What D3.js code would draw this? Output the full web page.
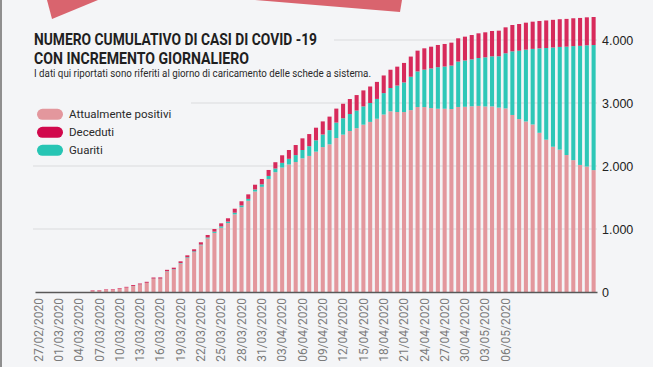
<!DOCTYPE html>
<html>
<head>
<meta charset="utf-8">
<script src="https://cdn.jsdelivr.net/npm/d3@7"></script>
<style>
  body { margin: 0; background: #f4f5f7; }
  svg { display: block; font-family: Roboto, "Noto Sans", sans-serif; }
</style>
</head>
<body>
<svg id="chart" width="653" height="367"></svg>
<script>
// daily categories run from 27/02/2020 to 19/05/2020 (one bar per day)
const firstDay = new Date(2020, 1, 27);
const lastDay = new Date(2020, 4, 19);
const tickLabels = ['27/02/2020', '01/03/2020', '04/03/2020', '07/03/2020', '10/03/2020', '13/03/2020',
  '16/03/2020', '19/03/2020', '22/03/2020', '25/03/2020', '28/03/2020', '31/03/2020', '03/04/2020',
  '06/04/2020', '09/04/2020', '12/04/2020', '15/04/2020', '18/04/2020', '21/04/2020', '24/04/2020',
  '27/04/2020', '30/04/2020', '03/05/2020', '06/05/2020'];
const yTicks = [0, 1000, 2000, 3000, 4000];

// values
const positivi = [0, 0, 0, 0, 0, 0, 0, 0,
  18, 20, 35, 35, 52, 70, 93, 118, 143, 209, 208, 325, 355, 451, 542, 633, 741, 850, 938, 1020, 1094,
  1232, 1346, 1448, 1595, 1669, 1794, 1902, 1975, 2024, 2063,
  2122, 2160, 2228, 2300, 2344, 2444, 2498, 2555, 2600, 2656, 2700, 2750, 2817, 2868, 2857, 2856, 2887,
  2936, 2935, 2919, 2909, 2909, 2904, 2937, 2940, 2948, 2954, 2945, 2946, 2927, 2914, 2810, 2745, 2707,
  2659, 2527, 2418, 2306, 2260, 2174, 2093, 2017, 1991, 1935];
const guariti = [0, 0, 0, 0, 0, 0, 0, 0, 0, 0, 0, 0, 0, 0,
  2, 2, 3, 3, 4, 5, 6, 8, 10, 12, 12, 15, 20, 22, 24, 27, 28, 30, 33, 40, 48, 58, 75, 90, 110,
  132, 155, 180, 200, 225, 245, 260, 270, 280, 290, 300, 315, 340, 370, 420, 470, 530, 565, 595, 630,
  660, 670, 690, 720, 735, 745, 760, 780, 795, 815, 875, 1010, 1085, 1140, 1200, 1340, 1455, 1575, 1630,
  1720, 1810, 1890, 1925, 1985];
const deceduti = [0, 0, 0, 0, 0, 0, 0, 0,
  8, 8, 8, 9, 10, 12, 15, 15, 16, 18, 20, 22, 25, 28, 30, 33, 36, 40, 42, 48, 52, 63, 66, 72, 75, 85,
  95, 100, 120, 140, 160,
  185, 192, 200, 208, 215, 222, 230, 238, 246, 254, 262, 270, 280, 290, 300, 310, 320, 330, 338, 345,
  352, 358, 364, 370, 378, 386, 392, 397, 402, 406, 412, 418, 424, 428, 432, 435, 437, 439, 440, 441,
  442, 443, 444, 445];

const seriesNames = ['Attualmente positivi', 'Deceduti', 'Guariti'];
const colors = { positivi: '#e3979d', guariti: '#2ec7b7', deceduti: '#d72a5b' };
const legendColors = ['#e3979d', '#d1084c', '#27c5b4'];
const bg = '#f4f5f7';

const svg = d3.select('#chart');
const it = d3.formatLocale({ decimal: ',', thousands: '.', grouping: [3], currency: ['', '€'] });
const fmtNum = it.format(',d');
const fmtDay = d3.timeFormat('%d/%m/%Y');

const dates = d3.timeDay.range(firstDay, d3.timeDay.offset(lastDay, 1));
const rows = dates.map((d, i) => ({ date: fmtDay(d), positivi: positivi[i], guariti: guariti[i], deceduti: deceduti[i] }));

const x = d3.scaleBand().domain(rows.map(r => r.date)).range([35, 597]).paddingInner(0.4).paddingOuter(0.2);
const y = d3.scaleLinear().domain([0, 4000]).range([292, 40]);

// left border + top banner pieces
svg.append('rect').attr('x', 0).attr('y', 0).attr('width', 2).attr('height', 367).attr('fill', '#8f8f8f');
svg.append('polygon').attr('points', '47,0 52,19 98,0').attr('fill', '#d9646e');
svg.append('polygon').attr('points', '255,0 400,12 402,0').attr('fill', '#d9646e');

// grid
const grid = svg.append('g');
grid.selectAll('line').data(yTicks.filter(t => t > 0)).join('line')
  .attr('x1', 33).attr('x2', 597)
  .attr('y1', d => y(d)).attr('y2', d => y(d))
  .attr('stroke', '#dadbdd').attr('stroke-width', 1);

// boxes behind title and legend hide the grid there
svg.append('rect').attr('x', 20).attr('y', 28).attr('width', 314).attr('height', 56).attr('fill', bg);
svg.append('rect').attr('x', 20).attr('y', 96).attr('width', 171).attr('height', 64).attr('fill', bg);

// stacked bars
const stack = d3.stack().keys(['positivi', 'guariti', 'deceduti'])(rows);
svg.append('g').selectAll('g').data(stack).join('g')
  .attr('fill', s => colors[s.key])
  .selectAll('rect').data(s => s).join('rect')
  .attr('x', d => x(d.data.date))
  .attr('width', x.bandwidth())
  .attr('y', d => y(d[1]))
  .attr('height', d => y(d[0]) - y(d[1]));

// x axis
const xAxis = svg.append('g').attr('transform', `translate(0,${y(0)})`)
  .call(d3.axisBottom(x).tickValues(tickLabels).tickSize(0).tickSizeOuter(0));
xAxis.select('.domain').attr('stroke', '#595959').attr('stroke-width', 1.5);
xAxis.selectAll('text')
  .attr('transform', 'rotate(-90)')
  .attr('x', -6).attr('y', 0).attr('dy', '0.35em')
  .style('text-anchor', 'end')
  .attr('fill', '#7b7b7b')
  .style('font-size', '12px')
  .style('font-family', 'Roboto, sans-serif');

// y labels on the right
svg.append('g').selectAll('text').data(yTicks).join('text')
  .attr('x', 602).attr('y', d => y(d)).attr('dy', '0.36em')
  .attr('fill', '#222').style('font-size', '12.5px')
  .style('font-family', '"Liberation Sans", Arial, sans-serif')
  .text(d => fmtNum(d));

// titles
svg.append('text').attr('x', 34).attr('y', 45).attr('fill', '#1f1f1f')
  .style('font-size', '16.5px').style('font-weight', 700)
  .attr('textLength', 283).attr('lengthAdjust', 'spacingAndGlyphs')
  .text('NUMERO CUMULATIVO DI CASI DI COVID -19');
svg.append('text').attr('x', 34).attr('y', 63.5).attr('fill', '#1f1f1f')
  .style('font-size', '16.5px').style('font-weight', 700)
  .attr('textLength', 215).attr('lengthAdjust', 'spacingAndGlyphs')
  .text('CON INCREMENTO GIORNALIERO');
svg.append('text').attr('x', 34).attr('y', 76.5).attr('fill', '#2a2a2a')
  .style('font-size', '10px')
  .attr('textLength', 337).attr('lengthAdjust', 'spacingAndGlyphs')
  .text('I dati qui riportati sono riferiti al giorno di caricamento delle schede a sistema.');

// legend
const legend = svg.append('g').selectAll('g').data(seriesNames).join('g')
  .attr('transform', (d, i) => `translate(37,${114.3 + i * 18})`);
legend.append('rect').attr('x', 0).attr('y', -5.5).attr('width', 26).attr('height', 11).attr('rx', 5.5)
  .attr('fill', (d, i) => legendColors[i]);
legend.append('text').attr('x', 32).attr('y', 0).attr('dy', '0.36em')
  .attr('fill', '#2a2a2a').style('font-size', '11.5px')
  .text(d => d);
</script>
</body>
</html>
